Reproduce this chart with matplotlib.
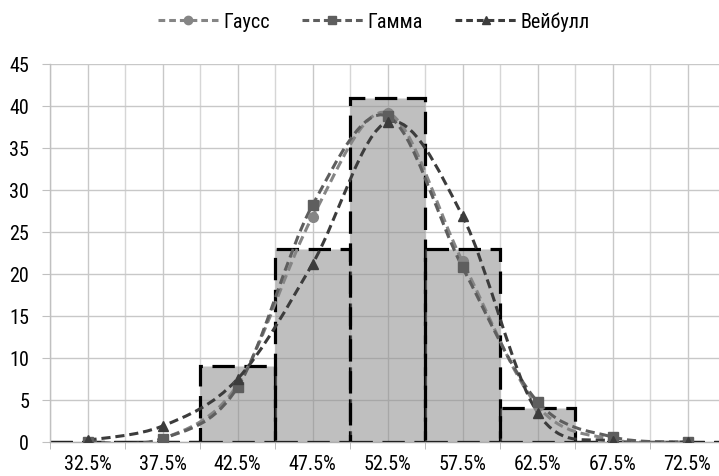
import numpy as np
import matplotlib
matplotlib.use("Agg")
import matplotlib.pyplot as plt
from matplotlib.path import Path
from matplotlib.patches import PathPatch
from matplotlib.lines import Line2D

plt.rcParams['font.family'] = ['Roboto Condensed', 'DejaVu Sans']

# интервалы и частоты
intervals = ["32.5%", "37.5%", "42.5%", "47.5%", "52.5%", "57.5%", "62.5%", "67.5%", "72.5%"]
freq = [0, 0, 9, 23, 41, 23, 4, 0, 0]

# теоретические распределения
gauss = [0.0, 0.4, 6.8, 26.8, 39.2, 21.5, 4.3, 0.3, 0.0]
gamma = [0.0, 0.4, 6.5, 28.2, 38.8, 20.8, 4.8, 0.6, 0.0]
weibull = [0.2, 1.9, 7.5, 21.2, 38.1, 26.9, 3.5, 0.1, 0.0]

series = [
    ("Гаусс", gauss, "o", "#858585", 7),
    ("Гамма", gamma, "s", "#5e5e5e", 7),
    ("Вейбулл", weibull, "^", "#3c3c3c", 7),
]


def smooth_path(x, y):
    # сглаженная линия как в Excel: кривые Безье через все точки
    pts = np.column_stack([x, y]).astype(float)
    ext = np.vstack([pts[0], pts, pts[-1]])
    verts = [pts[0]]
    codes = [Path.MOVETO]
    for i in range(len(pts) - 1):
        p0, p1, p2, p3 = ext[i], ext[i + 1], ext[i + 2], ext[i + 3]
        verts += [p1 + (p2 - p0) / 6, p2 - (p3 - p1) / 6, p2]
        codes += [Path.CURVE4] * 3
    return Path(verts, codes)


fig = plt.figure(figsize=(7.19, 4.77), dpi=100)
ax = fig.add_axes([50 / 719, 34 / 477, 675 / 719, 378 / 477])

x = np.arange(len(intervals))

ax.bar(x, freq, width=1.0, facecolor=(0.55, 0.55, 0.55, 0.55),
       edgecolor="black", linewidth=2.3, linestyle=(0, (7, 3)), zorder=2)

for name, vals, mk, col, ms in series:
    ax.add_patch(PathPatch(smooth_path(x, vals), fill=False, edgecolor=col,
                           linewidth=2.2, linestyle=(0, (3, 1.6)), zorder=3))
    ax.plot(x, vals, linestyle="none", marker=mk, markersize=ms, color=col, zorder=4)

ax.set_xlim(-0.5, 8.5)
ax.set_ylim(0, 45)
ax.set_yticks(range(0, 46, 5))
ax.set_xticks(x)
ax.set_xticklabels(intervals)
ax.set_xticks(np.arange(-0.5, 9, 1.0), minor=True)

ax.grid(axis="y", color="#c8c8c8", linewidth=1.0, zorder=0)
ax.grid(axis="x", which="major", color="#c8c8c8", linewidth=1.0, zorder=0)
ax.grid(axis="x", which="minor", color="#d6d6d6", linewidth=1.0, zorder=0)
ax.set_axisbelow(True)

for s in ["top", "right"]:
    ax.spines[s].set_visible(False)
ax.spines["left"].set_color("#c0c0c0")
ax.spines["bottom"].set_color("#b0b0b0")
ax.spines["left"].set_linewidth(1.0)
ax.spines["bottom"].set_linewidth(1.0)

ax.tick_params(axis="y", which="major", length=6, color="#c0c0c0", labelsize=14.5, pad=9)
ax.tick_params(axis="x", which="major", length=0, labelsize=14.5, pad=9)
ax.tick_params(axis="x", which="minor", length=5, color="#b0b0b0")

handles = [Line2D([], [], color=col, marker=mk, markersize=ms - 1, linewidth=2.2,
                  linestyle=(0, (2.2, 1.3))) for _, _, mk, col, ms in series]
fig.legend(handles, [s[0] for s in series], loc="center",
           bbox_to_anchor=(374 / 719, 1 - 22 / 477), ncol=3, frameon=False,
           fontsize=14.5, handlelength=3.0, columnspacing=1.6, handletextpad=0.25)

fig.savefig("out.png", dpi=100)
